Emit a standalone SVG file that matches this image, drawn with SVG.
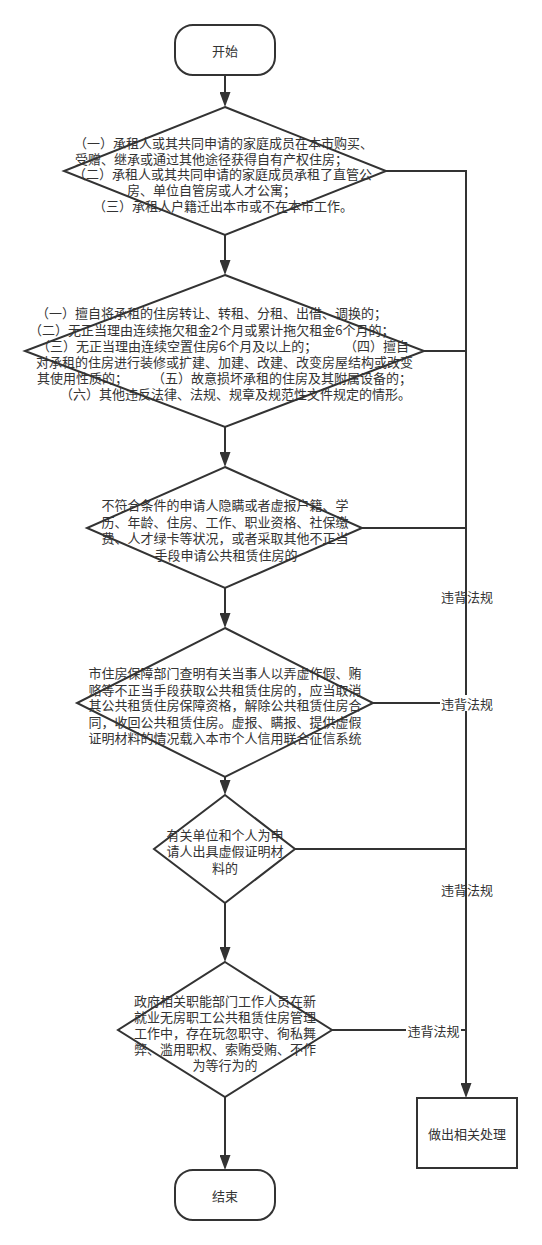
<svg xmlns="http://www.w3.org/2000/svg" width="542" height="1245" viewBox="0 0 542 1245">
<defs>
<style>
.shape{fill:#fff;stroke:#333;stroke-width:2}
.edge{fill:none;stroke:#333;stroke-width:2}
text{font-family:"Noto Sans CJK SC","Noto Sans",sans-serif;font-size:13px;fill:#333;dominant-baseline:central}
.c{text-anchor:middle}
.lbl{fill:#fff;stroke:none}
</style>
<marker id="arr" markerUnits="userSpaceOnUse" markerWidth="15" markerHeight="11" refX="0" refY="5.5" orient="auto">
<path d="M0,0 L15,5.5 L0,11 Z" fill="#333"/>
</marker>
</defs>
<rect width="542" height="1245" fill="#fff"/>

<g id="connectors">
<line class="edge" x1="225" y1="75" x2="225" y2="92" marker-end="url(#arr)"/>
<line class="edge" x1="225" y1="235" x2="225" y2="260" marker-end="url(#arr)"/>
<line class="edge" x1="225" y1="427" x2="225" y2="452" marker-end="url(#arr)"/>
<line class="edge" x1="225" y1="588" x2="225" y2="613" marker-end="url(#arr)"/>
<line class="edge" x1="225" y1="777" x2="225" y2="780" marker-end="url(#arr)"/>
<line class="edge" x1="225" y1="903" x2="225" y2="947" marker-end="url(#arr)"/>
<line class="edge" x1="225" y1="1097" x2="225" y2="1155" marker-end="url(#arr)"/>
<polyline class="edge" points="386,171 466,171 466,1083" marker-end="url(#arr)"/>
<line class="edge" x1="424" y1="351" x2="466" y2="351"/>
<line class="edge" x1="362" y1="528" x2="466" y2="528"/>
<line class="edge" x1="373" y1="703" x2="466" y2="703"/>
<line class="edge" x1="295" y1="849" x2="466" y2="849"/>
<line class="edge" x1="332" y1="1030" x2="466" y2="1030"/>
<text class="c" x="467" y="596">违背法规</text>
<rect class="lbl" x="440" y="695" width="54" height="16"/>
<text class="c" x="467" y="703">违背法规</text>
<text class="c" x="467" y="889">违背法规</text>
<rect class="lbl" x="406" y="1022" width="55" height="16"/>
<text class="c" x="433.5" y="1030">违背法规</text>
</g>

<g id="start">
<rect class="shape" x="175" y="25" width="100" height="50" rx="18" ry="18"/>
<text class="c" x="225" y="50">开始</text>
</g>

<g id="d1">
<polygon class="shape" points="225,107 386,171 225,235 64,171"/>
<text><tspan x="74" y="141.5">（一）承租人或其共同申请的家庭成员在本市购买、</tspan><tspan x="75" y="157.5">受赠、继承或通过其他途径获得自有产权住房；</tspan><tspan x="73" y="173">（二）承租人或其共同申请的家庭成员承租了直管公</tspan><tspan x="127" y="189">房、单位自管房或人才公寓；</tspan><tspan x="93" y="205">（三）承租人户籍迁出本市或不在本市工作。</tspan></text>
</g>

<g id="d2">
<polygon class="shape" points="225,275 424,351 225,427 25,351"/>
<text><tspan x="36" y="312">（一）擅自将承租的住房转让、转租、分租、出借、调换的；</tspan><tspan x="29" y="328.5">（二）无正当理由连续拖欠租金2个月或累计拖欠租金6个月的；</tspan><tspan x="37" y="345">（三）无正当理由连续空置住房6个月及以上的；</tspan><tspan x="344" y="345">（四）擅自</tspan><tspan x="36" y="361">对承租的住房进行装修或扩建、加建、改建、改变房屋结构或改变</tspan><tspan x="37" y="377">其使用性质的；</tspan><tspan x="152" y="377">（五）故意损坏承租的住房及其附属设备的；</tspan><tspan x="60" y="393">（六）其他违反法律、法规、规章及规范性文件规定的情形。</tspan></text>
</g>

<g id="d3">
<polygon class="shape" points="225,467 362,528 225,588 87,528"/>
<text class="c"><tspan x="225" y="504">不符合条件的申请人隐瞒或者虚报户籍、学</tspan><tspan x="225" y="520.5">历、年龄、住房、工作、职业资格、社保缴</tspan><tspan x="225" y="537">费、人才绿卡等状况，或者采取其他不正当</tspan><tspan x="226" y="553.5">手段申请公共租赁住房的</tspan></text>
</g>

<g id="d4">
<polygon class="shape" points="225,628 373,703 225,777 77,703"/>
<text class="c"><tspan x="225" y="672">市住房保障部门查明有关当事人以弄虚作假、贿</tspan><tspan x="225" y="688.5">赂等不正当手段获取公共租赁住房的，应当取消</tspan><tspan x="225" y="704">其公共租赁住房保障资格，解除公共租赁住房合</tspan><tspan x="225" y="720.5">同，收回公共租赁住房。虚报、瞒报、提供虚假</tspan><tspan x="225" y="737">证明材料的情况载入本市个人信用联合征信系统</tspan></text>
</g>

<g id="d5">
<polygon class="shape" points="225,795 295,849 225,903 154,849"/>
<text class="c"><tspan x="225" y="833.5">有关单位和个人为申</tspan><tspan x="225" y="850">请人出具虚假证明材</tspan><tspan x="225" y="866.5">料的</tspan></text>
</g>

<g id="d6">
<polygon class="shape" points="225,962 332,1030 225,1097 118,1030"/>
<text class="c"><tspan x="225" y="999.5">政府相关职能部门工作人员在新</tspan><tspan x="225" y="1015.5">就业无房职工公共租赁住房管理</tspan><tspan x="225" y="1031.5">工作中，存在玩忽职守、徇私舞</tspan><tspan x="225" y="1047.5">弊、滥用职权、索贿受贿、不作</tspan><tspan x="225" y="1063.5">为等行为的</tspan></text>
</g>

<g id="handle">
<rect class="shape" x="417" y="1098" width="100" height="70"/>
<text class="c" x="467" y="1133">做出相关处理</text>
</g>

<g id="end">
<rect class="shape" x="175" y="1170" width="100" height="50" rx="18" ry="18"/>
<text class="c" x="225" y="1195">结束</text>
</g>
</svg>
